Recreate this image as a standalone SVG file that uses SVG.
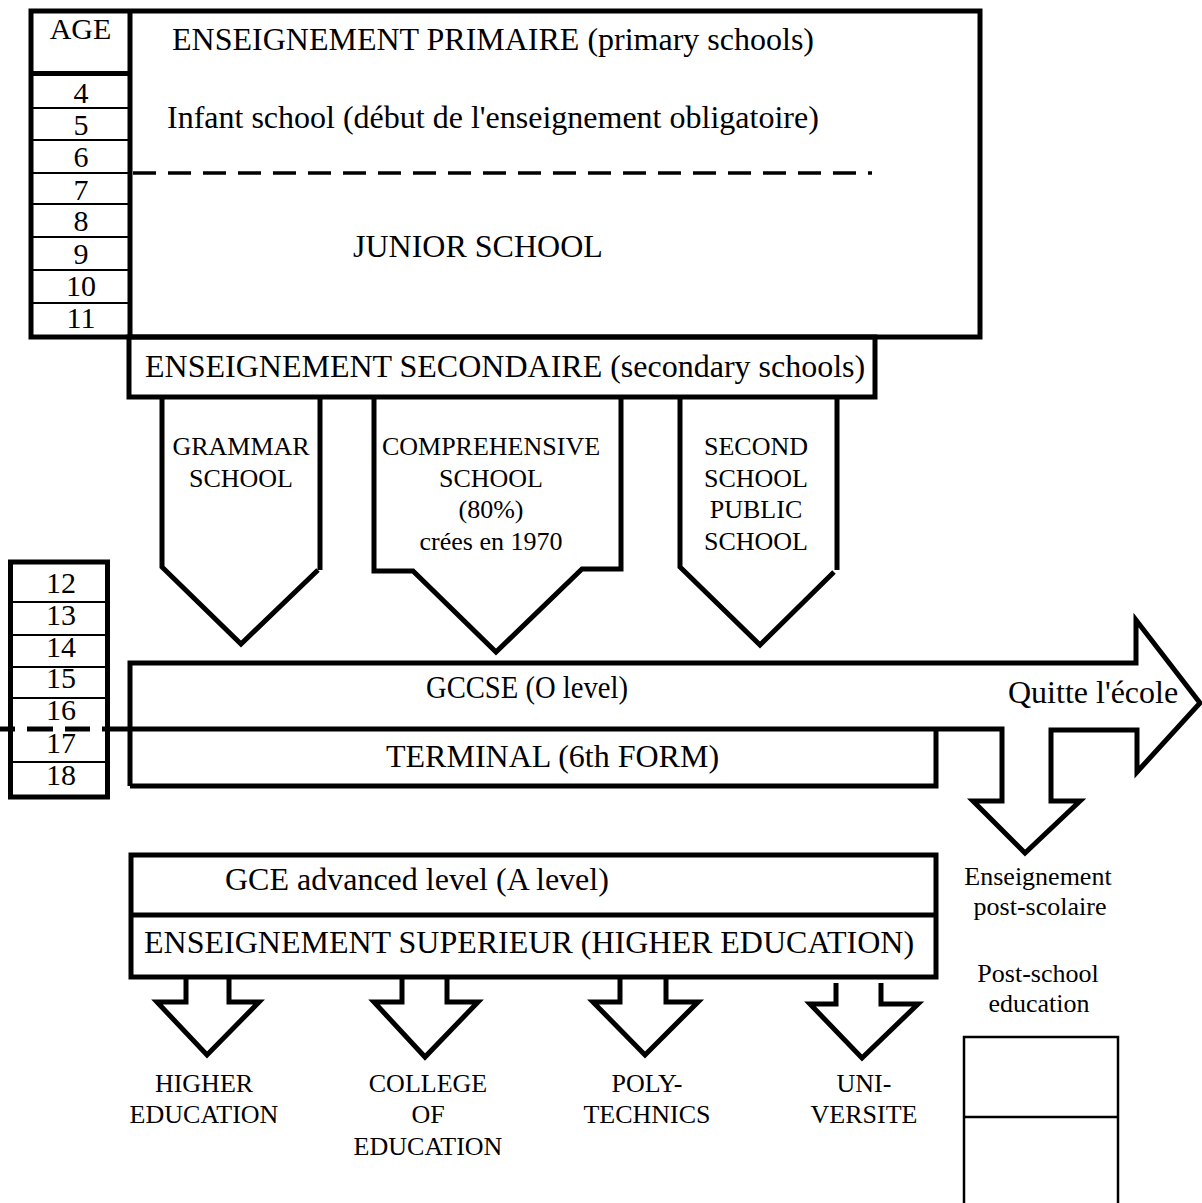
<svg xmlns="http://www.w3.org/2000/svg" width="1202" height="1203" viewBox="0 0 1202 1203">
<style>
text{font-family:"Liberation Serif","Times New Roman",serif;fill:#000}
.big{font-size:32px}
.num{font-size:30px;text-anchor:middle}
.mid{font-size:26px;text-anchor:middle}
.thick{fill:none;stroke:#000;stroke-width:5}
.thin{fill:none;stroke:#000;stroke-width:2}
.dash{fill:none;stroke:#000;stroke-width:3.5}
</style>
<rect width="1202" height="1203" fill="#fff"/>

<g id="primary">
  <rect class="thick" x="31" y="11" width="949" height="326"/>
  <line class="thick" x1="130" y1="11" x2="130" y2="337"/>
  <line class="thick" x1="31" y1="73.5" x2="130" y2="73.5"/>
  <g class="thin">
    <line x1="31" y1="108" x2="130" y2="108"/>
    <line x1="31" y1="140" x2="130" y2="140"/>
    <line x1="31" y1="173" x2="130" y2="173"/>
    <line x1="31" y1="204" x2="130" y2="204"/>
    <line x1="31" y1="237" x2="130" y2="237"/>
    <line x1="31" y1="270" x2="130" y2="270"/>
    <line x1="31" y1="303" x2="130" y2="303"/>
  </g>
  <text class="num" x="80.5" y="39">AGE</text>
  <text class="num" x="81" y="103">4</text>
  <text class="num" x="81" y="135">5</text>
  <text class="num" x="81" y="167">6</text>
  <text class="num" x="81" y="200">7</text>
  <text class="num" x="81" y="231">8</text>
  <text class="num" x="81" y="264">9</text>
  <text class="num" x="81" y="296">10</text>
  <text class="num" x="81" y="328">11</text>
  <line class="dash" x1="133" y1="173" x2="872" y2="173" stroke-dasharray="23 12"/>
  <text class="big" x="172" y="50">ENSEIGNEMENT PRIMAIRE (primary schools)</text>
  <text class="big" x="167" y="128">Infant school (début de l'enseignement obligatoire)</text>
  <text class="big" x="353" y="257">JUNIOR SCHOOL</text>
</g>

<g id="secondary">
  <rect class="thick" x="129" y="337" width="746" height="60"/>
  <text class="big" x="145" y="377">ENSEIGNEMENT SECONDAIRE (secondary schools)</text>
</g>

<g id="grammar">
  <polyline class="thick" points="162,397 162,567 241,644 318,570"/>
  <line class="thick" x1="320" y1="397" x2="320" y2="570"/>
  <text class="mid" x="241" y="455">GRAMMAR</text>
  <text class="mid" x="241" y="487">SCHOOL</text>
</g>

<g id="comprehensive">
  <polyline class="thick" points="374,397 374,571 413,571 496,652 582,569 621,569 621,397"/>
  <text class="mid" x="491" y="455">COMPREHENSIVE</text>
  <text class="mid" x="491" y="487">SCHOOL</text>
  <text class="mid" x="491" y="518">(80%)</text>
  <text class="mid" x="491" y="550">crées en 1970</text>
</g>

<g id="public">
  <polyline class="thick" points="680,397 680,567 760,645 834,572"/>
  <line class="thick" x1="837" y1="397" x2="837" y2="570"/>
  <text class="mid" x="756" y="455">SECOND</text>
  <text class="mid" x="756" y="487">SCHOOL</text>
  <text class="mid" x="756" y="518">PUBLIC</text>
  <text class="mid" x="756" y="550">SCHOOL</text>
</g>

<g id="ages2">
  <rect class="thick" x="10.5" y="562" width="97" height="235"/>
  <g class="thin">
    <line x1="10" y1="602" x2="108" y2="602"/>
    <line x1="10" y1="635" x2="108" y2="635"/>
    <line x1="10" y1="667" x2="108" y2="667"/>
    <line x1="10" y1="698" x2="108" y2="698"/>
    <line x1="10" y1="762" x2="108" y2="762"/>
  </g>
  <text class="num" x="61" y="593">12</text>
  <text class="num" x="61" y="625">13</text>
  <text class="num" x="61" y="657">14</text>
  <text class="num" x="61" y="688">15</text>
  <text class="num" x="61" y="720">16</text>
  <text class="num" x="61" y="753">17</text>
  <text class="num" x="61" y="785">18</text>
</g>

<g id="gccse">
  <polyline class="thick" points="130,786 130,663 1136,663 1136,620 1200,703 1137,772 1137,730 1051,730 1051,801 1080,801 1025,853 973,801 1002,801 1002,729 102,729"/>
  <text class="big" x="426" y="698" textLength="202" lengthAdjust="spacingAndGlyphs">GCCSE (O level)</text>
  <text class="big" x="1008" y="703">Quitte l'école</text>
</g>

<g id="terminal">
  <polyline class="thick" points="130,786 936,786 936,729"/>
  <text class="big" x="386" y="767">TERMINAL (6th FORM)</text>
</g>

<g id="connectors">
  <g class="thick">
    <line x1="0" y1="729" x2="15" y2="729"/>
    <line x1="27" y1="729" x2="53" y2="729"/>
    <line x1="65" y1="729" x2="90" y2="729"/>
  </g>
</g>

<g id="postschool">
  <text class="mid" x="1038" y="885">Enseignement</text>
  <text class="mid" x="1040" y="915">post-scolaire</text>
  <text class="mid" x="1038" y="982">Post-school</text>
  <text class="mid" x="1039" y="1012">education</text>
  <polyline fill="none" stroke="#000" stroke-width="2.5" points="964,1210 964,1037 1118,1037 1118,1210"/>
  <line x1="964" y1="1117" x2="1118" y2="1117" stroke="#000" stroke-width="2.5"/>
</g>

<g id="higher">
  <rect class="thick" x="131" y="855" width="805" height="122"/>
  <line class="thick" x1="131" y1="915" x2="936" y2="915"/>
  <text class="big" x="225" y="890">GCE advanced level (A level)</text>
  <text class="big" x="144" y="953">ENSEIGNEMENT SUPERIEUR (HIGHER EDUCATION)</text>
</g>

<g id="arrow-he">
  <polyline class="thick" points="186,977 186,1002 157,1002 207,1055 259,1002 229,1002 229,977"/>
  <text class="mid" x="204" y="1092">HIGHER</text>
  <text class="mid" x="204" y="1123">EDUCATION</text>
</g>
<g id="arrow-college">
  <polyline class="thick" points="402,977 402,1002 374,1002 425,1057 478,1002 447,1002 447,977"/>
  <text class="mid" x="428" y="1092">COLLEGE</text>
  <text class="mid" x="428" y="1123">OF</text>
  <text class="mid" x="428" y="1155">EDUCATION</text>
</g>
<g id="arrow-poly">
  <polyline class="thick" points="620,977 620,1002 593,1002 645,1055 698,1002 666,1002 666,977"/>
  <text class="mid" x="647" y="1092">POLY-</text>
  <text class="mid" x="647" y="1123">TECHNICS</text>
</g>
<g id="arrow-uni">
  <polyline class="thick" points="836,983 836,1004 810,1004 862,1058 918,1004 881,1004 881,983"/>
  <text class="mid" x="864" y="1092">UNI-</text>
  <text class="mid" x="864" y="1123">VERSITE</text>
</g>
</svg>
